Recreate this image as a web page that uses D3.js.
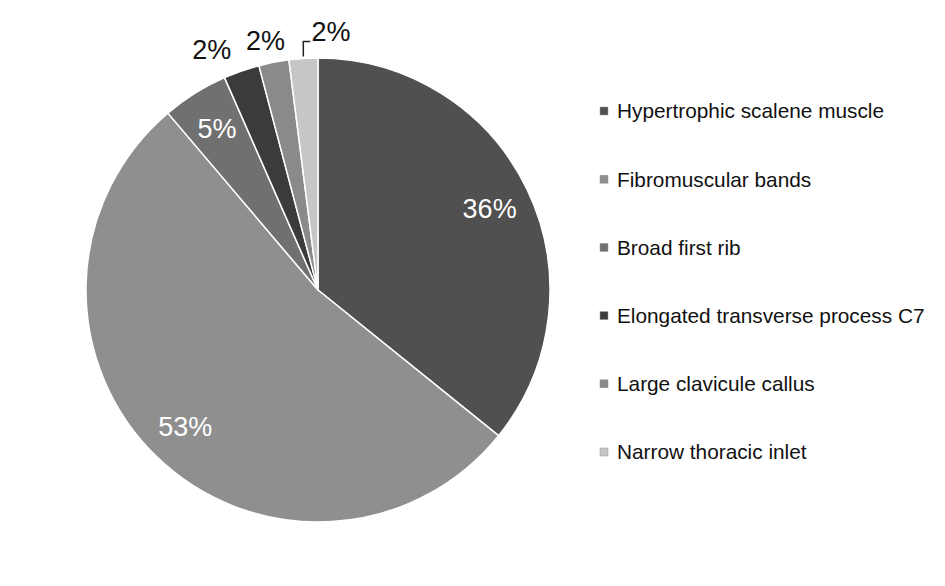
<!DOCTYPE html>
<html><head><meta charset="utf-8">
<script src="https://cdn.jsdelivr.net/npm/d3@7"></script>
<style>body{margin:0;background:#fff}svg{display:block}</style>
</head><body>
<script>
const categories = ["Hypertrophic scalene muscle","Fibromuscular bands","Broad first rib","Elongated transverse process C7","Large clavicule callus","Narrow thoracic inlet"];
const values = [35.8, 53.0, 4.6, 2.5, 2.1, 2.0];
const labels = ["36%","53%","5%","2%","2%","2%"];
const colors = ["#505050","#8f8f8f","#707070","#3b3b3b","#8a8a8a","#c6c6c6"];

const W = 945, H = 586;
const cx = 318, cy = 290, R = 232;
const svg = d3.select("body").append("svg").attr("width", W).attr("height", H);
const data = categories.map((c,i)=>({c, v: values[i], l: labels[i], col: colors[i]}));
const pie = d3.pie().value(d=>d.v).sort(null);
const arcs = pie(data);
const arc = d3.arc().innerRadius(0).outerRadius(R);
const g = svg.append("g").attr("transform", `translate(${cx},${cy})`);
g.selectAll("path").data(arcs).join("path")
  .attr("d", arc).attr("fill", d=>d.data.col)
  .attr("stroke", "#fff").attr("stroke-width", 1.5);

const font = "'Liberation Sans', Arial, sans-serif";
const inArc = d3.arc().innerRadius(R*0.82).outerRadius(R*0.82);
const inside = arcs.filter(d=>d.data.v >= 4);
g.selectAll("text.in").data(inside).join("text")
  .attr("x", d=>inArc.centroid(d)[0]).attr("y", d=>inArc.centroid(d)[1])
  .attr("text-anchor","middle").attr("dy","0.36em")
  .attr("font-family", font).attr("font-size", 27).attr("fill","#fff")
  .text(d=>d.data.l);

// outside labels (small slices), nudged apart like Excel
const outArc = d3.arc().innerRadius(R*1.1).outerRadius(R*1.1);
const nudges = [[-22,0],[-4,1],[29,-4]];
const outside = arcs.filter(d=>d.data.v < 4);
outside.forEach((d,i)=>{
  const p = outArc.centroid(d);
  g.append("text").attr("x", p[0]+nudges[i][0]).attr("y", p[1]+nudges[i][1])
    .attr("text-anchor","middle").attr("dy","0.36em")
    .attr("font-family", font).attr("font-size", 27).attr("fill","#111")
    .text(d.data.l);
});
// leader line for last small slice
{
  const d = outside[outside.length-1];
  const a = (d.startAngle + d.endAngle)/2;
  const x0 = Math.sin(a)*(R+2), y0 = -Math.cos(a)*(R+2);
  g.append("path").attr("d", `M${x0},${y0} V${y0-15} H${x0+7}`)
    .attr("fill","none").attr("stroke","#222").attr("stroke-width",1.5);
}

// legend
const leg = svg.append("g");
const rowY = d3.scalePoint().domain(categories).range([111, 452]);
categories.forEach((c,i)=>{
  const y = rowY(c);
  leg.append("rect").attr("x",600).attr("y",y-4).attr("width",8).attr("height",8)
    .attr("fill",colors[i]).attr("stroke","#999").attr("stroke-width",0.5);
  leg.append("text").attr("x",617).attr("y",y).attr("dy","0.36em")
    .attr("font-family",font).attr("font-size",20.8).attr("fill","#111").text(c);
});
</script>
</body></html>
